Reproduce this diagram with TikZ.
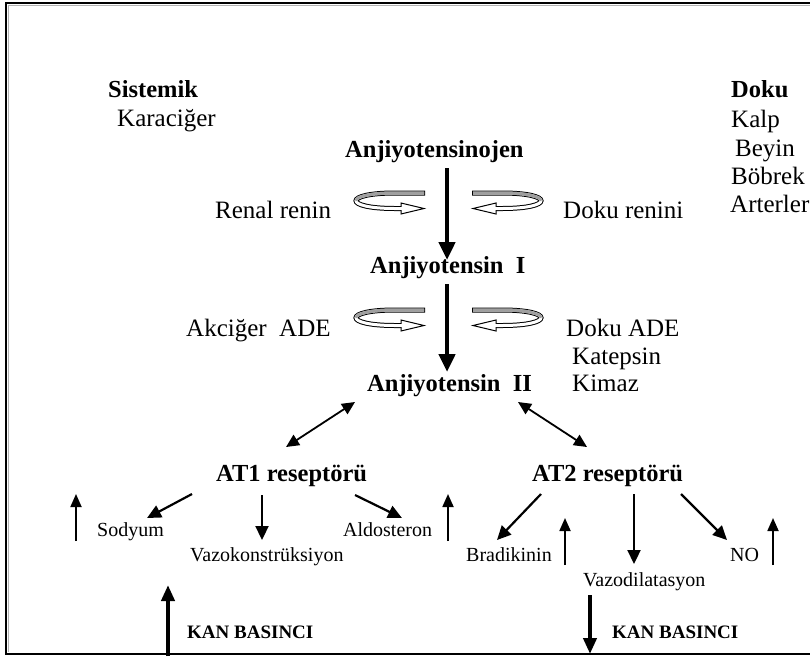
\documentclass[tikz,border=0pt]{standalone}
\usepackage{fontspec}
\setmainfont{Liberation Serif}
\usetikzlibrary{arrows.meta}
\begin{document}
\begin{tikzpicture}[x=1pt,y=-1pt,
  txt/.style={font=\fontsize{25}{30}\selectfont, inner sep=0pt, anchor=base west},
  btxt/.style={font=\fontsize{24.5}{30}\selectfont\bfseries, inner sep=0pt, anchor=base west},
  stxt/.style={font=\fontsize{20}{24}\selectfont, inner sep=0pt, anchor=base west},
  ktxt/.style={font=\fontsize{19}{23}\selectfont\bfseries, inner sep=0pt, anchor=base west},
  mainarrow/.style={line width=4.5pt, -{Triangle[length=18pt,width=16pt]}},
  bparrow/.style={line width=4pt, -{Triangle[length=16pt,width=13pt]}},
  effarrow/.style={line width=2.2pt, -{Triangle[length=14pt,width=13pt]}},
  dblarrow/.style={line width=1.8pt, {Triangle[length=13pt,width=12pt]}-{Triangle[length=13pt,width=12pt]}},
  uparrow/.style={line width=1.8pt, -{Triangle[length=13pt,width=11pt]}},
]
\useasboundingbox (0,0) rectangle (810,657);
\clip (0,0) rectangle (810,657);
% frame
\draw[line width=1.3pt] (6,3) rectangle (840,654);
\draw[gray!60, line width=1pt] (8,5) -- (840,5);
\draw[gray!60, line width=1pt] (8,5) -- (8,652);

% texts
\node[btxt] (sis) at (108,97) {Sistemik};
\node[txt] (kar) at (117,126) {Karaciğer};
\node[btxt] (doku) at (731,97) {Doku};
\node[txt] (kalp) at (731,127) {Kalp};
\node[txt] (beyin) at (735,156) {Beyin};
\node[txt] (bob) at (731,184) {Böbrek};
\node[txt] (art) at (730,212) {Arterler};

\node[btxt] (agt) at (345,157) {Anjiyotensinojen};
\node[txt] (rr) at (215,218) {Renal renin};
\node[txt] (dr) at (563,218) {Doku renini};
\node[btxt] (a1) at (370,273) {Anjiyotensin\ \ I};
\node[txt] (ake) at (186,336) {Akciğer\ \ ADE};
\node[txt] (dade) at (566,336) {Doku ADE};
\node[txt] (kat) at (572,364) {Katepsin};
\node[txt] (kim) at (572,391) {Kimaz};
\node[btxt] (a2) at (367,391) {Anjiyotensin\ \ II};

\node[btxt] (at1) at (216,481) {AT1 reseptörü};
\node[btxt] (at2) at (532,481) {AT2 reseptörü};

\node[stxt] (sod) at (97,536) {Sodyum};
\node[stxt] (ald) at (343,536) {Aldosteron};
\node[stxt] (vk) at (190,561) {Vazokonstrüksiyon};
\node[stxt] (bra) at (466,561) {Bradikinin};
\node[stxt] (no) at (730,561) {NO};
\node[stxt] (vd) at (583,586) {Vazodilatasyon};

\node[ktxt] (kb1) at (187,638) {KAN BASINCI};
\node[ktxt] (kb2) at (612,638) {KAN BASINCI};

% coordinates for arrows
\coordinate (m1s) at (447,168); \coordinate (m1e) at (447,260);
\coordinate (m2s) at (447,284); \coordinate (m2e) at (447,372);
\coordinate (d1s) at (355,402); \coordinate (d1e) at (286,447);
\coordinate (d2s) at (518,402); \coordinate (d2e) at (587,447);

\draw[mainarrow] (m1s) -- (m1e);
\draw[mainarrow] (m2s) -- (m2e);
\draw[dblarrow] (d1s) -- (d1e);
\draw[dblarrow] (d2s) -- (d2e);

% AT1 effects
\coordinate (e1s) at (192,494); \coordinate (e1e) at (147,518);
\coordinate (e2s) at (262,495); \coordinate (e2e) at (262,540);
\coordinate (e3s) at (355,495); \coordinate (e3e) at (402,518);
\draw[effarrow] (e1s) -- (e1e);
\draw[effarrow] (e2s) -- (e2e);
\draw[effarrow] (e3s) -- (e3e);
\coordinate (u1s) at (76,541); \coordinate (u1e) at (76,494);
\coordinate (u2s) at (448,541); \coordinate (u2e) at (448,494);
\draw[uparrow] (u1s) -- (u1e);
\draw[uparrow] (u2s) -- (u2e);

% AT2 effects
\coordinate (f1s) at (541,494); \coordinate (f1e) at (497,540);
\coordinate (f2s) at (634,494); \coordinate (f2e) at (634,564);
\coordinate (f3s) at (681,494); \coordinate (f3e) at (727,540);
\draw[effarrow] (f1s) -- (f1e);
\draw[effarrow] (f2s) -- (f2e);
\draw[effarrow] (f3s) -- (f3e);
\coordinate (u3s) at (565,565); \coordinate (u3e) at (565,518);
\coordinate (u4s) at (773,565); \coordinate (u4e) at (773,518);
\draw[uparrow] (u3s) -- (u3e);
\draw[uparrow] (u4s) -- (u4e);

% blood pressure
\coordinate (b1s) at (168,656); \coordinate (b1e) at (168,585);
\coordinate (b2s) at (590,595); \coordinate (b2e) at (590,654);
\draw[bparrow] (b1s) -- (b1e);
\draw[bparrow] (b2s) -- (b2e);

% cycle arrows (hollow curled ribbons)
\foreach \yy in {0,117} {
  \foreach \mir/\sh in {1/0,-1/897} {
    \begin{scope}[shift={(\sh,\yy)}, xscale=\mir]
      \draw[line width=5pt] (425,193) -- (395,193) .. controls (343,193) and (343,208.5) .. (395,208.5) -- (402,208.5);
      \draw[white, line width=3pt] (424,193) -- (395,193) .. controls (343,193) and (343,208.5) .. (395,208.5) -- (402,208.5);
      \draw[gray!75, line width=3pt] (424,193) -- (395,193) .. controls (369,193) and (356,196.9) .. (356,200.75);
      \draw[fill=white, line width=1pt, line join=miter] (401,203) -- (424,208.5) -- (401,214) -- cycle;
      \draw[white, line width=3pt] (398,208.5) -- (403,208.5);
    \end{scope}
  }
}
\end{tikzpicture}
\end{document}
